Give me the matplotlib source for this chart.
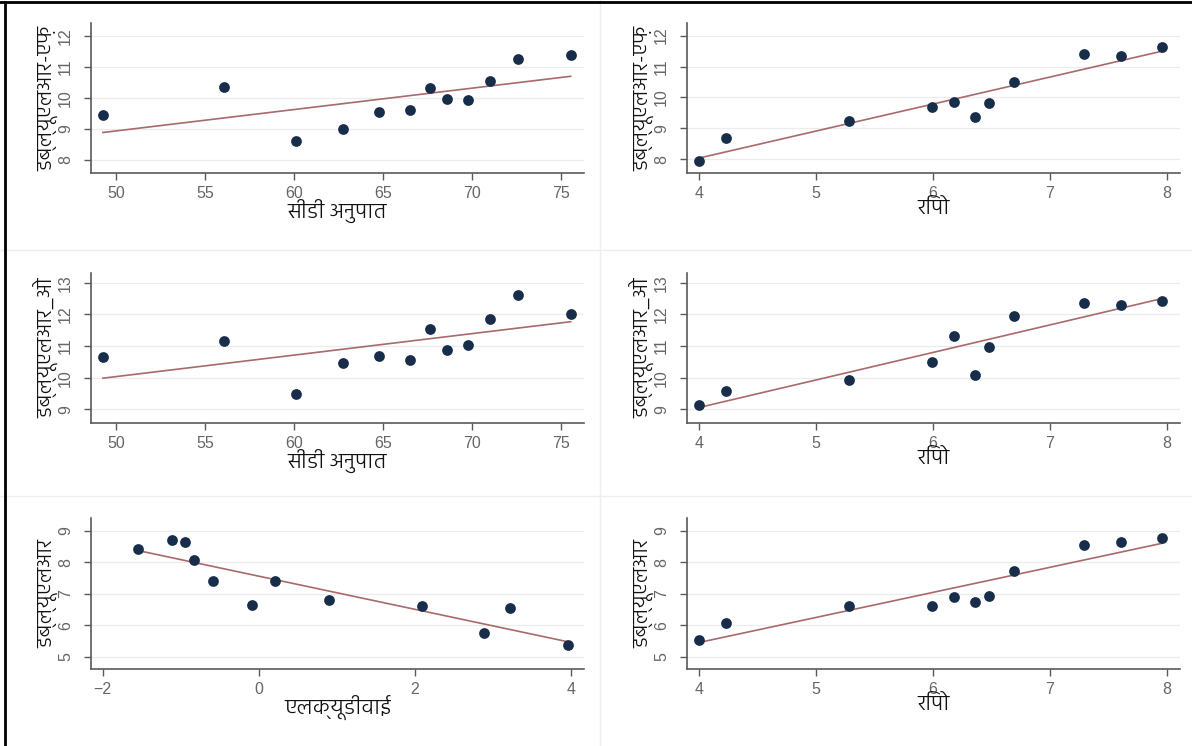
import numpy as np
import logging
import matplotlib
matplotlib.use("Agg")
import matplotlib.pyplot as plt
from matplotlib.lines import Line2D

# data
cd_ratio = [49.25, 56.07, 60.11, 62.74, 64.78, 66.50, 67.62, 68.61, 69.77, 70.98, 72.57, 75.54]
wlr_f_cd = [9.46, 10.34, 8.61, 9.00, 9.53, 9.62, 10.32, 9.96, 9.92, 10.55, 11.25, 11.37]
wlr_o_cd = [10.65, 11.16, 9.50, 10.46, 10.69, 10.55, 11.53, 10.89, 11.03, 11.87, 12.62, 12.02]

repo = [4.00, 4.23, 5.28, 5.99, 6.18, 6.36, 6.48, 6.69, 7.29, 7.61, 7.96]
wlr_f_repo = [7.95, 8.68, 9.25, 9.68, 9.84, 9.36, 9.82, 10.49, 11.41, 11.33, 11.62]
wlr_o_repo = [9.15, 9.58, 9.92, 10.49, 11.33, 10.09, 10.97, 11.95, 12.36, 12.31, 12.44]
wlr_repo = [5.55, 6.07, 6.63, 6.63, 6.90, 6.74, 6.94, 7.71, 8.55, 8.64, 8.78]

lqdy = [-1.55, -1.11, -0.95, -0.83, -0.59, -0.09, 0.21, 0.90, 2.09, 2.89, 3.22, 3.97]
wlr_lqdy = [8.43, 8.71, 8.64, 8.08, 7.40, 6.66, 7.40, 6.82, 6.61, 5.77, 6.54, 5.37]

xlab_cd = "सीडी अनुपात"
xlab_repo = "रिपो"
xlab_lqdy = "एलक्यूडीवाई"
ylab_f = "डब्ल्यूएलआर-एफ़"
ylab_o = "डब्ल्यूएलआर_ओ"
ylab_w = "डब्ल्यूएलआर"

logging.getLogger("matplotlib.font_manager").setLevel(logging.ERROR)
plt.rcParams["font.family"] = ["Hind", "Akshar", "DejaVu Sans"]

W, H = 1192, 746
fig = plt.figure(figsize=(W / 100, H / 100), dpi=100)

# (x, y, ylabel, xlabel, xlim, ylim, xticks, yticks, column, top px, bottom px)
panels = [
    (cd_ratio, wlr_f_cd, ylab_f, xlab_cd, (48.58, 76.29), (7.58, 12.41), [50, 55, 60, 65, 70, 75], [8, 9, 10, 11, 12], 0, 23, 173),
    (repo, wlr_f_repo, ylab_f, xlab_repo, (3.90, 8.11), (7.55, 12.41), [4, 5, 6, 7, 8], [8, 9, 10, 11, 12], 1, 23, 173),
    (cd_ratio, wlr_o_cd, ylab_o, xlab_cd, (48.58, 76.29), (8.57, 13.31), [50, 55, 60, 65, 70, 75], [9, 10, 11, 12, 13], 0, 273, 423),
    (repo, wlr_o_repo, ylab_o, xlab_repo, (3.90, 8.11), (8.57, 13.31), [4, 5, 6, 7, 8], [9, 10, 11, 12, 13], 1, 273, 423),
    (lqdy, wlr_lqdy, ylab_w, xlab_lqdy, (-2.15, 4.17), (4.62, 9.40), [-2, 0, 2, 4], [5, 6, 7, 8, 9], 0, 518, 669),
    (repo, wlr_repo, ylab_w, xlab_repo, (3.90, 8.11), (4.62, 9.40), [4, 5, 6, 7, 8], [5, 6, 7, 8, 9], 1, 518, 669),
]

for x, y, ylab, xlab, xl, yl, xt, yt, col, top, bot in panels:
    left = 91 + col * 596
    right = 584 + col * 596
    ax = fig.add_axes([left / W, 1 - bot / H, (right - left) / W, (bot - top) / H])
    x = np.array(x)
    y = np.array(y)
    k, b = np.polyfit(x, y, 1)
    xs = np.array([x.min(), x.max()])
    ax.plot(xs, k * xs + b, color="#a86a6a", lw=1.2, zorder=2)
    ax.scatter(x, y, s=60, color="#172d4a", zorder=3, linewidths=0)
    ax.set_xlim(xl)
    ax.set_ylim(yl)
    ax.set_xticks(xt)
    ax.set_yticks(yt)
    ax.grid(axis="y", color="#ececec", lw=0.9)
    ax.set_axisbelow(True)
    for s in ["top", "right"]:
        ax.spines[s].set_visible(False)
    for s in ["left", "bottom"]:
        ax.spines[s].set_color("#5a5a5a")
        ax.spines[s].set_linewidth(1.2)
    ax.tick_params(colors="#5a5a5a", labelcolor="#666666", labelsize=11.5, length=5, width=1)
    ax.tick_params(axis="y", labelrotation=90, pad=8)
    ax.tick_params(axis="x", pad=4)
    for t in ax.get_xticklabels() + ax.get_yticklabels():
        t.set_family(["Liberation Sans", "DejaVu Sans"])
    for t in ax.get_yticklabels():
        t.set_va("center")
    ax.set_xlabel(xlab, fontsize=16, color="#111111", fontweight=300, labelpad=-1)
    ax.set_ylabel(ylab, fontsize=15.5, color="#111111", fontweight=300, labelpad=0)

# faint panel dividers and the black frame of the screenshot
for yy in [250, 496]:
    fig.add_artist(Line2D([0, 1], [1 - yy / H] * 2, color="#eeeeee", lw=1))
fig.add_artist(Line2D([600 / W] * 2, [0, 1], color="#eeeeee", lw=1))
fig.add_artist(Line2D([0, 1], [1 - 2 / H] * 2, color="black", lw=2))
fig.add_artist(Line2D([5 / W] * 2, [0, 1 - 2 / H], color="black", lw=2))

fig.savefig("out.png", dpi=100)
